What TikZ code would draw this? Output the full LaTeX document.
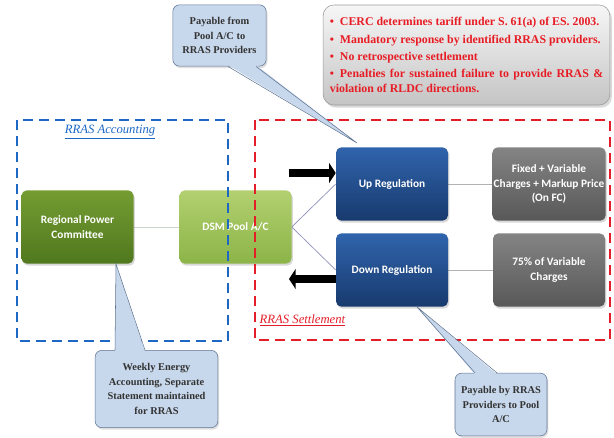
\documentclass[tikz,border=0pt]{standalone}
\usepackage{fontspec}
\setmainfont{Liberation Serif}
\setsansfont{Carlito}
\usetikzlibrary{positioning,arrows.meta,calc,shadows,backgrounds}
\definecolor{rpcTop}{RGB}{116,156,50}
\definecolor{rpcBot}{RGB}{80,120,30}
\definecolor{poolTop}{RGB}{178,208,112}
\definecolor{poolBot}{RGB}{140,180,72}
\definecolor{regTop}{RGB}{48,100,172}
\definecolor{regBot}{RGB}{24,58,110}
\definecolor{chgTop}{RGB}{132,132,132}
\definecolor{chgBot}{RGB}{88,88,88}
\definecolor{tipFill}{RGB}{200,216,236}
\definecolor{tipLine}{RGB}{96,116,146}
\definecolor{noteTop}{RGB}{246,246,246}
\definecolor{noteBot}{RGB}{196,196,196}
\definecolor{noteRed}{RGB}{232,28,36}
\definecolor{accBlue}{RGB}{28,104,196}
\definecolor{setRed}{RGB}{228,30,40}
\tikzset{
  blk/.style={rectangle, rounded corners=4pt, minimum width=84pt, minimum height=55pt,
              inner xsep=1pt, align=center, text=white,
              font=\sffamily\bfseries\fontsize{8.5}{11}\selectfont,
              drop shadow={opacity=0.3, shadow xshift=1pt, shadow yshift=-1.5pt}},
  rpc/.style={blk, top color=rpcTop, bottom color=rpcBot},
  pool/.style={blk, top color=poolTop, bottom color=poolBot},
  reg/.style={blk, top color=regTop, bottom color=regBot},
  chg/.style={blk, top color=chgTop, bottom color=chgBot},
  tip/.style={rectangle, rounded corners=5pt, draw=tipLine, fill=tipFill, align=center,
              font=\bfseries\fontsize{7.8}{11}\selectfont, text=black!80,
              drop shadow={opacity=0.25, shadow xshift=1pt, shadow yshift=-1.5pt}},
  link/.style={draw=black!30, line width=0.5pt},
  fat/.style={line width=6pt, -{Triangle[length=5pt, width=15pt]}},
  frame/.style={line width=1.2pt, dash pattern=on 7.5pt off 4.5pt},
  zone/.style={font=\itshape\fontsize{9.5}{11}\selectfont},
}
\newcommand{\rulebullet}{\hangindent=9pt\textbullet\hspace{4.5pt}}

\begin{document}
\begin{tikzpicture}[x=0.75pt, y=-0.75pt]
  \useasboundingbox (0,0) rectangle (614,437);

  % note on tariff rules
  \node[rectangle, rounded corners=8pt, draw=black!40, top color=noteTop, bottom color=noteBot,
        minimum width=215pt, minimum height=75pt, text width=205pt, align=justify,
        text=noteRed, font=\bfseries\fontsize{8.9}{10.8}\selectfont,
        drop shadow={opacity=0.3, shadow xshift=1.5pt, shadow yshift=-2pt}] (rules) at (466.5,55)
  {\parskip=2.2pt
   \rulebullet CERC determines tariff under S. 61(a) of ES. 2003.\par
   \rulebullet Mandatory response by identified RRAS providers.\par
   \rulebullet No retrospective settlement\par
   \rulebullet Penalties for sustained failure to provide RRAS \& violation of RLDC directions.};

  % main boxes
  \node[rpc]  (rpc)  at (77.5,227)  {Regional Power\\Committee};
  \node[pool] (pool) at (235.5,227) {DSM Pool A/C};
  \node[reg]  (up)   at (392,184)   {Up Regulation};
  \node[reg]  (down) at (392,270)   {Down Regulation};
  \node[chg]  (fix)  at (549,184)   {Fixed + Variable\\Charges + Markup Price\\(On FC)};
  \node[chg]  (var)  at (549,270)   {75\% of Variable\\Charges};

  \begin{scope}[on background layer]
    \draw[link, draw=green!20!black!20] (rpc) -- (pool);
    \draw[link, draw=blue!40!black!45] (pool.east) -- (up.west);
    \draw[link, draw=blue!40!black!45] (pool.east) -- (down.west);
    \draw[link] (up) -- (fix);
    \draw[link] (down) -- (var);
  \end{scope}

  % payment direction
  \coordinate (inA)  at (289,173);
  \coordinate (outA) at (289,279);
  \draw[fat] (inA) -- (up.west |- inA);
  \draw[fat] (down.west |- outA) -- (outA);

  % accounting and settlement zones
  \draw[frame, draw=accBlue] (17,120) rectangle (228,341);
  \draw[frame, draw=setRed] (255,120) rectangle (610,340);
  \node[zone, text=accBlue] (accLbl) at (110,132) {\underline{RRAS Accounting}};
  \node[zone, text=setRed, anchor=west] (setLbl) at (255,320) {\underline{RRAS Settlement}};

  % callouts
  \node[tip, minimum width=70pt, minimum height=46pt] (cUp) at (219.5,35.5)
    {Payable from\\Pool A/C to\\RRAS Providers};
  \node[tip, minimum width=92pt, minimum height=58pt] (cAcc) at (156.5,389)
    {Weekly Energy\\Accounting, Separate\\Statement maintained\\for RRAS};
  \node[tip, minimum width=69pt, minimum height=47pt] (cDown) at (501,404.5)
    {Payable by RRAS\\Providers to Pool\\A/C};

  \coordinate (tUp)   at (357,143);
  \coordinate (tAcc)  at ($(rpc.south)+(38.5,0)$);
  \coordinate (tDown) at ($(down.south)+(25,0)$);

  \fill[tipFill] ($(cUp.south)+(8.5,-1.5)$) -- (tUp) -- ($(cUp.south)+(36.5,-1.5)$) -- cycle;
  \draw[tipLine] ($(cUp.south)+(8.5,0)$) -- (tUp) -- ($(cUp.south)+(36.5,0)$);
  \fill[tipFill] ($(cAcc.north)+(-41.5,1.5)$) -- (tAcc) -- ($(cAcc.north)+(-11.5,1.5)$) -- cycle;
  \draw[tipLine] ($(cAcc.north)+(-41.5,0)$) -- (tAcc) -- ($(cAcc.north)+(-11.5,0)$);
  \fill[tipFill] ($(cDown.north)+(-26,1.5)$) -- (tDown) -- ($(cDown.north)+(-4,1.5)$) -- cycle;
  \draw[tipLine] ($(cDown.north)+(-26,0)$) -- (tDown) -- ($(cDown.north)+(-4,0)$);
\end{tikzpicture}
\end{document}
